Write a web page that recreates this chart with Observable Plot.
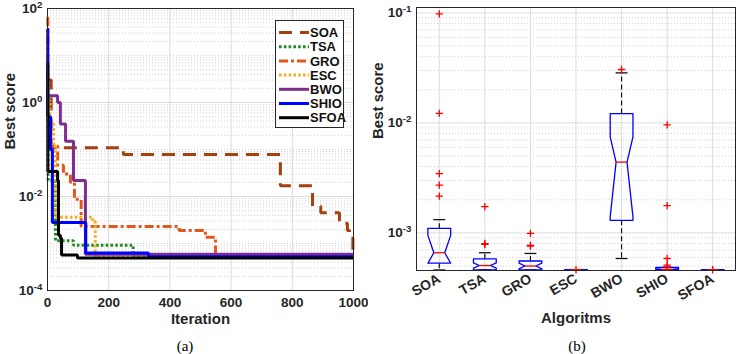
<!DOCTYPE html>
<html>
<head>
<meta charset="utf-8">
<script src="https://cdn.jsdelivr.net/npm/d3@7"></script>
<script src="https://cdn.jsdelivr.net/npm/@observablehq/plot@0.6"></script>
<style>
  body { margin: 0; background: #fff; }
  #fig { position: relative; width: 736px; height: 354px; overflow: hidden; }
  .panel { position: absolute; top: 0; }
  .cap { position: absolute; top: 338px; width: 40px; margin-left: -20px; text-align: center;
         font-family: "Liberation Serif", "Times New Roman", serif; font-size: 15px; color: #000; }
</style>
</head>
<body>
<div id="fig">
  <div class="panel" id="pa" style="left:0"></div>
  <div class="panel" id="pb" style="left:370px"></div>
  <div class="cap" style="left:185px">(a)</div>
  <div class="cap" style="left:577px">(b)</div>
</div>
<script>
// ---------- algorithms ----------
const algorithms = ["SOA", "TSA", "GRO", "ESC", "BWO", "SHIO", "SFOA"];

// ---------- convergence curves: iteration where the best score changes, and the new best ----------
const soaIter  = [0, 12, 248, 761, 866, 893, 954, 980, 987, 998];
const soaBest  = [3.0, 0.109, 0.078, 0.017, 0.0062, 0.0045, 0.0027, 0.0019, 0.0013, 0.00055];
const tsaIter  = [0, 2, 26, 85, 280];
const tsaBest  = [0.2, 0.022, 0.00114, 0.00092, 0.00053];
const groIter  = [0, 1, 10, 33, 52, 75, 88, 110, 430, 516, 549];
const groBest  = [64, 0.3, 0.12, 0.046, 0.03, 0.02, 0.0087, 0.0023, 0.0019, 0.00135, 0.00053];
const escIter  = [0, 8, 20, 26, 148, 156];
const escBest  = [1.1, 0.35, 0.12, 0.0036, 0.0030, 0.00052];
const bwoIter  = [0, 33, 42, 59, 85, 124];
const bwoBest  = [1.4, 1.0, 0.35, 0.15, 0.022, 0.00059];
const shioIter = [0, 1, 10, 16, 125, 330];
const shioBest = [37, 0.5, 0.1, 0.0028, 0.00063, 0.00052];
const sfoaIter = [0, 1, 33, 36, 42, 46, 98];
const sfoaBest = [7, 0.034, 0.022, 0.0015, 0.0013, 0.00057, 0.00049];
const maxIter = 1000;

// ---------- box plot statistics over independent runs ----------
const q1       = [5.3e-4, 4.60e-4, 4.60e-4, 4.62e-4, 1.30e-3, 4.62e-4, 4.62e-4];
const medians  = [6.6e-4, 5.05e-4, 5.00e-4, 4.62e-4, 4.40e-3, 4.66e-4, 4.62e-4];
const q3       = [1.10e-3, 5.80e-4, 5.55e-4, 4.64e-4, 1.216e-2, 4.85e-4, 4.63e-4];
const notchLo  = [3.7e-4, 4.78e-4, 4.70e-4, 4.62e-4, 1.40e-3, 4.60e-4, 4.62e-4];
const notchHi  = [9.5e-4, 5.33e-4, 5.30e-4, 4.63e-4, 7.46e-3, 4.72e-4, 4.62e-4];
const whiskLo  = [4.60e-4, 4.60e-4, 4.60e-4, 4.62e-4, 5.85e-4, 4.60e-4, 4.62e-4];
const whiskHi  = [1.32e-3, 6.60e-4, 6.50e-4, 4.64e-4, 2.85e-2, 4.85e-4, 4.63e-4];
const outlierAlgo  = ["SOA", "SOA", "SOA", "SOA", "SOA", "TSA", "TSA", "TSA", "GRO", "GRO", "GRO",
                      "ESC", "BWO", "SHIO", "SHIO", "SHIO", "SHIO", "SHIO", "SFOA"];
const outlierValue = [0.098, 0.0122, 3.46e-3, 2.72e-3, 2.16e-3, 1.73e-3, 8.0e-4, 7.85e-4, 9.9e-4, 7.7e-4, 7.6e-4,
                      4.62e-4, 0.0306, 9.6e-3, 1.77e-3, 5.85e-4, 5.1e-4, 4.9e-4, 4.62e-4];

// ---------- axis ticks ----------
const iterTicks = [0, 200, 400, 600, 800, 1000];
const scoreTicksA = [1e-4, 1e-2, 1e0, 1e2];
const scoreTicksB = [1e-3, 1e-2, 1e-1];

// ---------- styles ----------
const lineStyles = [
  {stroke: "#A3420F", dash: "13,8"},
  {stroke: "#1F8B1F", dash: "2.6,2.2"},
  {stroke: "#E2571C", dash: "9,3,3,3"},
  {stroke: "#F5AB22", dash: "2.6,2.2"},
  {stroke: "#7E2F8E", dash: null},
  {stroke: "#0000FF", dash: null},
  {stroke: "#000000", dash: null}
];
const FONT = "'Liberation Sans', Arial, sans-serif";
const gridMajor = "#dcdcdc";
const gridMinor = "#c4c4c4";

const curves = [
  [soaIter, soaBest], [tsaIter, tsaBest], [groIter, groBest], [escIter, escBest],
  [bwoIter, bwoBest], [shioIter, shioBest], [sfoaIter, sfoaBest]
].map(([it, v], k) => {
  const rows = it.map((t, i) => ({algo: algorithms[k], iter: t, best: v[i]}));
  rows.push({algo: algorithms[k], iter: maxIter, best: v[v.length - 1]});
  return rows;
});

// log-scale minor gridline values (2..9 x 10^k plus skipped decades)
function minorValues(kLo, kHi, majors, lo, hi) {
  const out = [];
  for (let k = kLo; k <= kHi; k++)
    for (let m = 1; m <= 9; m++) {
      const v = +(m * Math.pow(10, k)).toPrecision(6);
      if (v >= lo && v <= hi && !majors.some(t => Math.abs(t - v) / v < 1e-9)) out.push(v);
    }
  return out;
}
const powerLabel = v => "10^" + Math.round(Math.log10(v));

// turn "10^-2" tick strings into a base with a raised exponent
function superscriptTicks(svg) {
  d3.select(svg).selectAll('g[aria-label="y-axis tick label"] text').each(function () {
    const s = this.textContent;
    if (!s.includes("^")) return;
    const [base, exp] = s.split("^");
    const t = d3.select(this).text(base);
    t.append("tspan").attr("dy", "-0.5em").attr("font-size", "0.72em").text(exp);
  });
}

// ================= (a) convergence curves =================
const yDomA = [1e-4, 1e2];
const plotA = Plot.plot({
  width: 368, height: 336,
  marginLeft: 47, marginRight: 15, marginTop: 8, marginBottom: 46,
  style: {fontFamily: FONT, fontSize: "13.5px", fontWeight: "bold", color: "#262626", background: "white"},
  x: {type: "linear", domain: [0, maxIter]},
  y: {type: "log", domain: yDomA},
  marks: [
    Plot.ruleY(minorValues(-4, 2, scoreTicksA, yDomA[0], yDomA[1]), {stroke: gridMinor, strokeDasharray: "1,2", strokeWidth: 0.8}),
    Plot.ruleY(scoreTicksA, {stroke: gridMajor}),
    Plot.ruleX(iterTicks, {stroke: gridMajor}),
    ...curves.map((rows, k) => Plot.line(rows, {
      x: "iter", y: "best", curve: "step-after",
      stroke: lineStyles[k].stroke, strokeWidth: 3,
      strokeDasharray: lineStyles[k].dash, strokeLinecap: "butt", strokeLinejoin: "miter"
    })),
    Plot.frame({stroke: "#262626", strokeWidth: 1}),
    Plot.axisX({ticks: iterTicks, tickFormat: d => String(d), tickSize: 0, tickPadding: 7, label: null}),
    Plot.axisY({ticks: scoreTicksA, tickFormat: powerLabel, tickSize: 0, tickPadding: 5, label: null}),
    Plot.text(["Iteration"], {frameAnchor: "bottom", dy: 33, fontSize: 15, fontWeight: "bold", fill: "#262626"}),
    Plot.text(["Best score"], {frameAnchor: "left", dx: -37, rotate: -90, fontSize: 15, fontWeight: "bold", fill: "#262626"})
  ]
});
superscriptTicks(plotA);

// legend box
{
  const g = d3.select(plotA).append("g")
    .attr("font-family", FONT).attr("font-size", "13px").attr("font-weight", "bold").attr("text-anchor", "start");
  g.append("rect").attr("x", 275.5).attr("y", 20.5).attr("width", 68).attr("height", 107)
    .attr("fill", "white").attr("stroke", "#262626").attr("stroke-width", 1);
  algorithms.forEach((name, i) => {
    const y = 32.5 + i * 14.2;
    g.append("line").attr("x1", 279).attr("x2", 309).attr("y1", y).attr("y2", y)
      .attr("stroke", lineStyles[i].stroke).attr("stroke-width", 3)
      .attr("stroke-dasharray", lineStyles[i].dash);
    g.append("text").attr("x", 310).attr("y", y).attr("dy", "0.36em")
      .attr("text-anchor", "start").attr("fill", "#111").text(name);
  });
}
document.getElementById("pa").append(plotA);

// ================= (b) box plots =================
const yDomB = [4.55e-4, 0.112];
const boxW = 0.25, notchW = 0.12, capW = 0.13;
const pos = name => algorithms.indexOf(name) + 1;

const boxRows = algorithms.flatMap((name, i) => {
  const x = i + 1;
  const lo = Math.max(notchLo[i], q1[i]);
  const hi = Math.min(notchHi[i], q3[i]);
  return [
    [x - boxW, q1[i]], [x - boxW, lo], [x - notchW, medians[i]], [x - boxW, hi], [x - boxW, q3[i]],
    [x + boxW, q3[i]], [x + boxW, hi], [x + notchW, medians[i]], [x + boxW, lo], [x + boxW, q1[i]],
    [x - boxW, q1[i]]
  ].map(([px, py]) => ({algo: name, x: px, y: py}));
});
const stats = algorithms.map((name, i) => ({
  algo: name, x: i + 1, q1: q1[i], med: medians[i], q3: q3[i], lo: whiskLo[i], hi: whiskHi[i]
}));
const outliers = outlierAlgo.map((a, i) => ({algo: a, value: outlierValue[i]}));

const plotB = Plot.plot({
  width: 366, height: 300,
  marginLeft: 46, marginRight: 1, marginTop: 7, marginBottom: 30,
  style: {fontFamily: FONT, fontSize: "14px", fontWeight: "bold", color: "#262626", background: "white", overflow: "visible"},
  x: {type: "linear", domain: [0.5, 7.5]},
  y: {type: "log", domain: yDomB},
  marks: [
    Plot.ruleY(minorValues(-4, -1, scoreTicksB, yDomB[0], yDomB[1]), {stroke: gridMinor, strokeDasharray: "1,2", strokeWidth: 0.8}),
    Plot.ruleY(scoreTicksB, {stroke: gridMajor}),
    Plot.ruleX(algorithms.map((d, i) => i + 1), {stroke: gridMajor}),
    // whiskers
    Plot.link(stats, {x1: "x", x2: "x", y1: "q3", y2: "hi", stroke: "#111", strokeDasharray: "5,3", strokeWidth: 1.2}),
    Plot.link(stats, {x1: "x", x2: "x", y1: "q1", y2: "lo", stroke: "#111", strokeDasharray: "5,3", strokeWidth: 1.2}),
    Plot.link(stats, {x1: d => d.x - capW, x2: d => d.x + capW, y1: "hi", y2: "hi", stroke: "#111", strokeWidth: 1.3}),
    Plot.link(stats, {x1: d => d.x - capW, x2: d => d.x + capW, y1: "lo", y2: "lo", stroke: "#111", strokeWidth: 1.3}),
    // notched boxes
    Plot.line(boxRows, {x: "x", y: "y", z: "algo", stroke: "#0000FF", strokeWidth: 1.3, curve: "linear"}),
    // medians
    Plot.link(stats, {x1: d => d.x - notchW, x2: d => d.x + notchW, y1: "med", y2: "med", stroke: "#FF0000", strokeWidth: 1.3}),
    // outliers
    Plot.dot(outliers, {x: d => pos(d.algo), y: "value", symbol: "plus", r: 2.5, stroke: "#FF0000", strokeWidth: 1.3}),
    Plot.frame({stroke: "#262626", strokeWidth: 1}),
    Plot.axisX({ticks: algorithms.map((d, i) => i + 1), tickFormat: d => algorithms[d - 1], tickRotate: -30,
                tickSize: 0, tickPadding: 7, label: null}),
    Plot.axisY({ticks: scoreTicksB, tickFormat: powerLabel, tickSize: 0, tickPadding: 5, label: null, fontSize: 13.5}),
    Plot.text(["Algoritms"], {frameAnchor: "bottom", dy: 52, fontSize: 15, fontWeight: "bold", fill: "#262626"}),
    Plot.text(["Best score"], {frameAnchor: "left", dx: -38, rotate: -90, fontSize: 15, fontWeight: "bold", fill: "#262626"})
  ]
});
superscriptTicks(plotB);
document.getElementById("pb").append(plotB);
</script>
</body>
</html>
